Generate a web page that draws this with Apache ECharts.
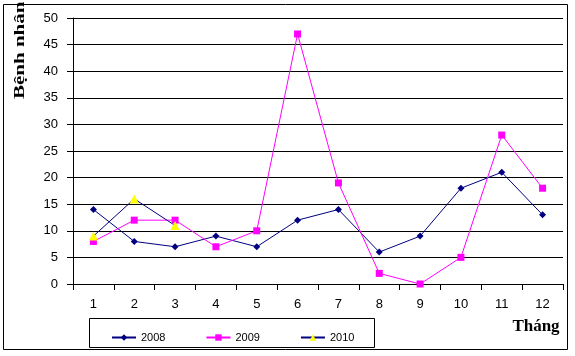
<!DOCTYPE html>
<html>
<head>
<meta charset="utf-8">
<script src="https://cdn.jsdelivr.net/npm/echarts@6/dist/echarts.min.js"></script>
<style>html,body{margin:0;padding:0;background:#fff;}#c{width:575px;height:356px;}</style>
</head>
<body>
<div id="c"></div>
<script>
var months = ['1','2','3','4','5','6','7','8','9','10','11','12'];
var s2008 = [14, 8, 7, 9, 7, 12, 14, 6, 9, 18, 21, 13];
var s2009 = [8, 12, 12, 7, 10, 47, 19, 2, 0, 5, 28, 18];
var s2010 = [9, 16, 11];
var yTitle = 'Bệnh nhân';
var xTitle = 'Tháng';

var chart = echarts.init(document.getElementById('c'), null, {renderer: 'canvas'});
var sansFont = 'Arial, "Liberation Sans", sans-serif';
var serifFont = '"Times New Roman", "Liberation Serif", serif';
chart.setOption({
  animation: false,
  backgroundColor: '#fff',
  grid: {left: 73, right: 12, top: 18, bottom: 72, containLabel: false},
  xAxis: {
    type: 'category', data: months, boundaryGap: true,
    axisLine: {lineStyle: {color: '#000', width: 1}},
    axisTick: {show: true, length: 6, alignWithLabel: false, lineStyle: {color: '#000'}},
    axisLabel: {color: '#000', fontSize: 13, fontFamily: sansFont, margin: 14},
    splitLine: {show: false}
  },
  yAxis: {
    type: 'value', min: 0, max: 50, interval: 5,
    axisLine: {show: true, lineStyle: {color: '#000', width: 1}},
    axisTick: {show: true, length: 6, lineStyle: {color: '#000'}},
    axisLabel: {color: '#000', fontSize: 13, fontFamily: sansFont, margin: 15},
    splitLine: {show: true, lineStyle: {color: '#000', width: 1}}
  },
  legend: {
    left: 106, top: 327, itemWidth: 24, itemHeight: 8, itemGap: 40,
    textStyle: {color: '#000', fontSize: 11, fontFamily: sansFont},
    data: ['2008', '2009', '2010']
  },
  series: [
    {name: '2008', type: 'line', data: s2008, symbol: 'diamond', symbolSize: 7,
     itemStyle: {color: '#000080'}, lineStyle: {color: '#000080', width: 1}},
    {name: '2009', type: 'line', data: s2009, symbol: 'rect', symbolSize: 7,
     itemStyle: {color: '#FF00FF'}, lineStyle: {color: '#FF00FF', width: 1}},
    {name: '2010', type: 'line', data: s2010, symbol: 'triangle', symbolSize: 9,
     itemStyle: {color: '#FFFF00'}, lineStyle: {color: '#000080', width: 1}}
  ],
  graphic: [
    {type: 'rect', shape: {x: 3.5, y: 4.5, width: 564, height: 345}, silent: true, z: -1,
     style: {fill: null, stroke: '#000', lineWidth: 1}},
    {type: 'rect', shape: {x: 89.5, y: 318.5, width: 285, height: 29}, silent: true,
     style: {fill: null, stroke: '#000', lineWidth: 1}},
    {type: 'text', x: 20, y: 99, rotation: Math.PI / 2, scaleX: 1.5, scaleY: 1,
     style: {text: yTitle, font: 'bold 14px ' + serifFont, fill: '#000',
             textAlign: 'left', textVerticalAlign: 'middle'}},
    {type: 'text', x: 536, y: 327,
     style: {text: xTitle, font: 'bold 17px ' + serifFont, fill: '#000',
             textAlign: 'center', textVerticalAlign: 'middle'}}
  ]
});
</script>
</body>
</html>
